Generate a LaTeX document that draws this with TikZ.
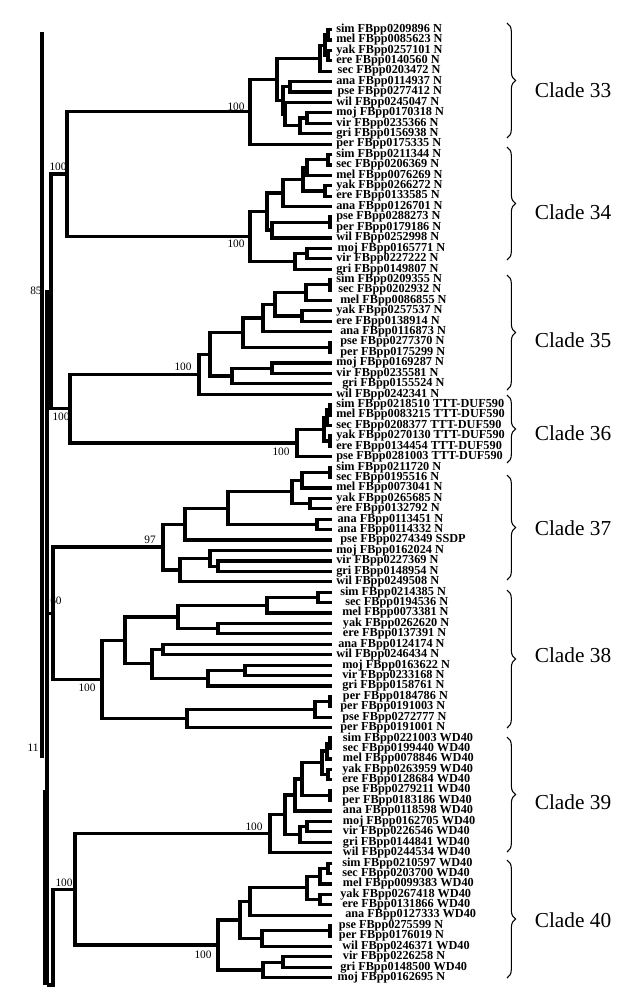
\documentclass[tikz,border=0pt]{standalone}
\usepackage{fontspec}
\setmainfont{Liberation Serif}
\usetikzlibrary{calc,decorations.pathreplacing}
\newcommand\inode[4]{%
  \path let \p1=($(#3)!0.5!(#4)$) in coordinate (#1) at (#2*0.75pt,\y1);
  \draw[br] (#1) |- (#3);
  \draw[br] (#1) |- (#4);
}
\tikzset{
  br/.style={line width=2.4pt, line join=miter},
  leaf/.style={anchor=west, inner xsep=3pt, inner ysep=0pt, font=\fontsize{9.2pt}{10pt}\selectfont\bfseries},
  bs/.style={inner sep=0pt, font=\fontsize{8.5pt}{9pt}\selectfont},
  cl/.style={inner sep=0pt, font=\fontsize{16pt}{18pt}\selectfont},
  brc/.style={line width=0.8pt, decorate, decoration={brace, amplitude=6.5pt}}
}
\begin{document}
\begin{tikzpicture}[x=0.75pt, y=-0.75pt]
\useasboundingbox (0,0) rectangle (635,1000);
% leaves
\foreach \dx/\t [count=\i from 0] in {
0/sim FBpp0209896 N, 0/mel FBpp0085623 N, 0/yak FBpp0257101 N, 0/ere FBpp0140560 N,
1/sec FBpp0203472 N, 0/ana FBpp0114937 N, 1/pse FBpp0277412 N, 0/wil FBpp0245047 N,
0/moj FBpp0170318 N, 0/vir FBpp0235366 N, 0/gri FBpp0156938 N, 0/per FBpp0175335 N,
0/sim FBpp0211344 N, 0/sec FBpp0206369 N, 0/mel FBpp0076269 N, 0/yak FBpp0266272 N,
0/ere FBpp0133585 N, 0/ana FBpp0126701 N, 0/pse FBpp0288273 N, 0/per FBpp0179186 N,
0/wil FBpp0252998 N, 1/moj FBpp0165771 N, 0/vir FBpp0227222 N, 0/gri FBpp0149807 N,
0/sim FBpp0209355 N, 1.5/sec FBpp0202932 N, 3/mel FBpp0086855 N, 0/yak FBpp0257537 N,
0/ere FBpp0138914 N, 3/ana FBpp0116873 N, 3/pse FBpp0277370 N, 3/per FBpp0175299 N,
0/moj FBpp0169287 N, 0/vir FBpp0235581 N, 4.5/gri FBpp0155524 N, 0/wil FBpp0242341 N,
0/sim FBpp0218510 TTT-DUF590, 0/mel FBpp0083215 TTT-DUF590, 0/sec FBpp0208377 TTT-DUF590,
0/yak FBpp0270130 TTT-DUF590, 0/ere FBpp0134454 TTT-DUF590, 0/pse FBpp0281003 TTT-DUF590,
0/sim FBpp0211720 N, 0/sec FBpp0195516 N, 0/mel FBpp0073041 N, 0/yak FBpp0265685 N,
0/ere FBpp0132792 N, 1/ana FBpp0113451 N, 1/ana FBpp0114332 N, 3/pse FBpp0274349 SSDP,
0/moj FBpp0162024 N, 0/vir FBpp0227369 N, 0/gri FBpp0148954 N, 0/wil FBpp0249508 N,
3/sim FBpp0214385 N, 6.75/sec FBpp0194536 N, 4.5/mel FBpp0073381 N, 5/yak FBpp0262620 N,
5/ere FBpp0137391 N, 1.5/ana FBpp0124174 N, 0/wil FBpp0246434 N, 4.5/moj FBpp0163622 N,
4.5/vir FBpp0233168 N, 4.5/gri FBpp0158761 N, 5/per FBpp0184786 N, 3/per FBpp0191003 N,
4.5/pse FBpp0272777 N, 3/per FBpp0191001 N,
5/sim FBpp0221003 WD40, 5/sec FBpp0199440 WD40, 5/mel FBpp0078846 WD40, 4.5/yak FBpp0263959 WD40,
4.5/ere FBpp0128684 WD40, 4.5/pse FBpp0279211 WD40, 4.5/per FBpp0183186 WD40, 5/ana FBpp0118598 WD40,
5/moj FBpp0162705 WD40, 5/vir FBpp0226546 WD40, 5/gri FBpp0144841 WD40, 5/wil FBpp0244534 WD40,
4.5/sim FBpp0210597 WD40, 4.5/sec FBpp0203700 WD40, 5/mel FBpp0099383 WD40, 3/yak FBpp0267418 WD40,
4.5/ere FBpp0131866 WD40, 6.75/ana FBpp0127333 WD40, 2/pse FBpp0275599 N, 2/per FBpp0176019 N,
4.5/wil FBpp0246371 WD40, 5/vir FBpp0226258 N, 3/gri FBpp0148500 WD40, 1/moj FBpp0162695 N}
{\node[leaf] (l\i) at (332,{29.5+10.42*\i}) {\hspace{\dx pt}\t};}
% clade 33
\inode{a1}{328}{l0.west}{l1.west}
\inode{a3}{328}{l2.west}{l3.west}
\inode{a2}{325}{a1}{a3}
\inode{a4}{320}{a2}{l4.west}
\inode{b1}{290}{l5.west}{l6.west}
\inode{c1}{307}{l8.west}{l9.west}
\inode{c2}{300}{c1}{l10.west}
\inode{d2}{285}{l7.west}{c2}
\inode{d}{283}{b1}{d2}
\inode{e}{277}{a4}{d}
\inode{f}{250}{e}{l11.west}
% clade 34
\inode{n1}{328}{l12.west}{l13.west}
\inode{n2}{307}{n1}{l14.west}
\inode{n3}{325}{l15.west}{l16.west}
\inode{n4}{303}{n2}{n3}
\inode{n5}{283}{n4}{l17.west}
\inode{n6a}{330}{l18.west}{l19.west}
\inode{n6}{272}{n6a}{l20.west}
\inode{n7}{267}{n5}{n6}
\inode{n8}{307}{l21.west}{l22.west}
\inode{n9}{295}{n8}{l23.west}
\inode{n10}{250}{n7}{n9}
\inode{p3334}{67}{f}{n10}
% clade 35
\inode{m1}{330}{l24.west}{l25.west}
\inode{m2}{306}{m1}{l26.west}
\inode{m3}{302}{l27.west}{l28.west}
\inode{m4}{275}{m2}{m3}
\inode{m5}{263}{m4}{l29.west}
\inode{m6}{330}{l30.west}{l31.west}
\inode{m7}{243}{m5}{m6}
\inode{m8}{272}{l32.west}{l33.west}
\inode{m9}{232}{m8}{l34.west}
\inode{m10}{210}{m7}{m9}
\inode{m11}{199}{m10}{l35.west}
% clade 36
\inode{k1}{330}{l36.west}{l37.west}
\inode{k2}{327}{k1}{l38.west}
\inode{k3}{330}{l39.west}{l40.west}
\inode{k4}{324}{k2}{k3}
\inode{k5}{297}{k4}{l41.west}
\inode{p3536}{70}{m11}{k5}
\inode{p85}{51}{p3334}{p3536}
% clade 37
\inode{q1}{330}{l42.west}{l43.west}
\inode{q2}{302}{q1}{l44.west}
\inode{q3}{310}{l45.west}{l46.west}
\inode{q4}{292}{q2}{q3}
\inode{q5}{317}{l47.west}{l48.west}
\inode{q6}{228}{q4}{q5}
\inode{q7}{185}{q6}{l49.west}
\inode{q8}{218}{l51.west}{l52.west}
\inode{q9}{210}{l50.west}{q8}
\inode{q10}{180}{q9}{l53.west}
\inode{q11}{163}{q7}{q10}
% clade 38
\inode{s1}{318}{l54.west}{l55.west}
\inode{s2}{267}{s1}{l56.west}
\inode{s3}{218}{l57.west}{l58.west}
\inode{s4}{178}{s2}{s3}
\inode{s5}{163}{l59.west}{l60.west}
\inode{s6}{245}{l61.west}{l62.west}
\inode{s7}{208}{s6}{l63.west}
\inode{s8}{152}{s5}{s7}
\inode{s9}{125}{s4}{s8}
\inode{s10}{330}{l64.west}{l65.west}
\inode{s11}{315}{s10}{l66.west}
\inode{s12}{187}{s11}{l67.west}
\inode{s13}{102}{s9}{s12}
\inode{p60}{53}{q11}{s13}
% clade 39
\inode{u1}{330}{l68.west}{l69.west}
\inode{u2}{327}{u1}{l70.west}
\inode{u3}{328}{l71.west}{l72.west}
\inode{u4}{322}{u2}{u3}
\inode{u5}{330}{l73.west}{l74.west}
\inode{u6}{302}{u4}{u5}
\inode{u7}{295}{u6}{l75.west}
\inode{u8}{307}{l76.west}{l77.west}
\inode{u9}{300}{u8}{l78.west}
\inode{u10}{285}{u7}{u9}
\inode{u11}{270}{u10}{l79.west}
% clade 40
\inode{v1}{328}{l80.west}{l81.west}
\inode{v2}{320}{v1}{l82.west}
\inode{v3}{320}{l83.west}{l84.west}
\inode{v4}{307}{v2}{v3}
\inode{v5}{250}{v4}{l85.west}
\inode{v6}{330}{l86.west}{l87.west}
\inode{v7}{262}{v6}{l88.west}
\inode{v8}{240}{v5}{v7}
\inode{v9}{283}{l89.west}{l90.west}
\inode{v10}{263}{v9}{l91.west}
\inode{v11}{218}{v8}{v10}
\inode{p3940}{75}{u11}{v11}
% backbone
\coordinate (r1) at (42,32);
\coordinate (r2) at (42,758);
\coordinate (r4) at (47,985);
\coordinate (r5) at (53,985);
\coordinate (r6) at (44.5,790);
\coordinate (r7) at (44.5,985);
\draw[br] (r1) -- (r2);
\draw[br] (p85) -- (p85 -| r4) -- (r4);
\draw[br] (p60) -- (p60 -| r4);
\draw[br] (p3940) -| (r5) -- (r4);
\draw[br] (r6) -- (r7);
% bootstrap values
\node[bs] (bf) at (236,107) {100};
\node[bs] (bn10) at (236,244) {100};
\node[bs] (b3334) at (58,167) {100};
\node[bs] (b85) at (36,291) {85};
\node[bs] (b3536) at (61,417) {100};
\node[bs] (bm11) at (183,367) {100};
\node[bs] (bk5) at (281,452) {100};
\node[bs] (bq11) at (150,540) {97};
\node[bs] (b60) at (56,601) {60};
\node[bs] (bs13) at (87,688) {100};
\node[bs] (b11) at (33,748) {11};
\node[bs] (bu11) at (254,827) {100};
\node[bs] (b3940) at (64,883) {100};
\node[bs] (bv11) at (203,955) {100};
% braces and clade labels
\foreach \n/\ta/\tb/\ly in {33/23/138/90, 34/147/260/212, 35/275/390/340, 36/395/463/433,
  37/475/580/528, 38/590/728/655, 39/737/852/802, 40/860/978/920}{
  \coordinate (bt\n) at (507,\ta);
  \coordinate (bb\n) at (507,\tb);
  \draw[brc] (bt\n) -- (bb\n);
  \node[cl] (cl\n) at (573,\ly) {Clade \n};
}
\end{tikzpicture}
\end{document}
